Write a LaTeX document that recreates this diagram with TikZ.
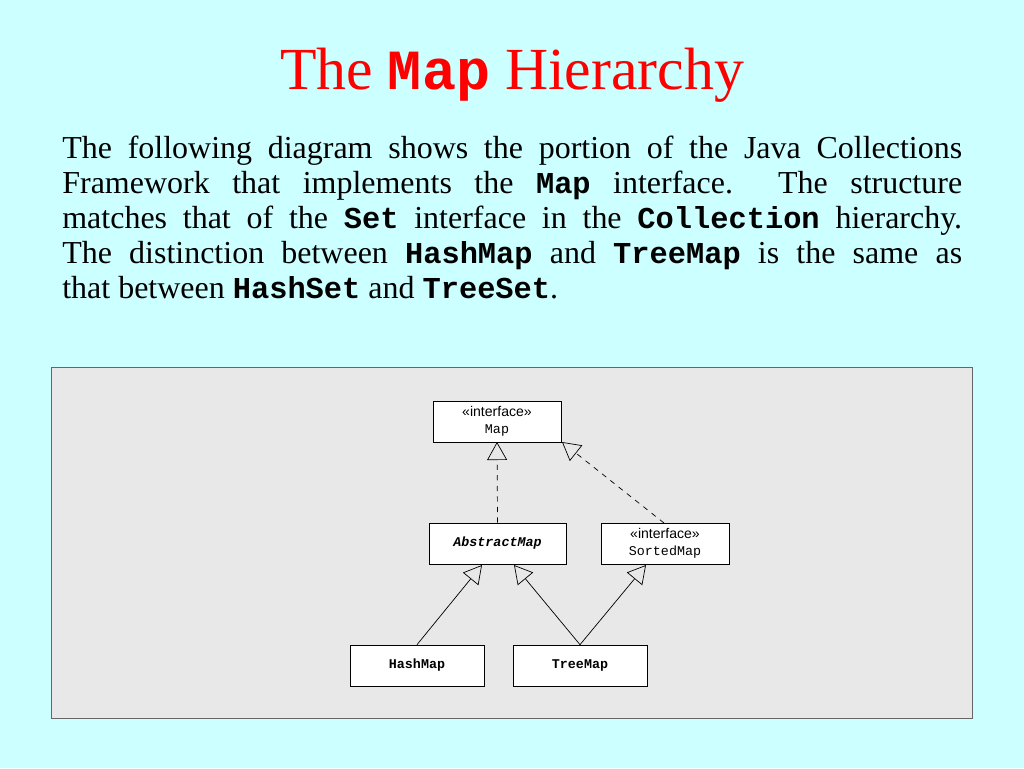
\documentclass[tikz,border=0pt]{standalone}
\usepackage{fontspec}
\setmainfont{Liberation Serif}
\setsansfont{Liberation Sans}
\setmonofont[Scale=0.95]{Liberation Mono}
\usetikzlibrary{arrows.meta}
\definecolor{slidebg}{HTML}{CCFFFF}
\definecolor{panel}{HTML}{E8E8E8}
\newcommand{\cw}[1]{\texttt{\textbf{#1}}}
\begin{document}
\begin{tikzpicture}[x=0.02cm,y=-0.02cm,
    cls/.style={draw, fill=white, minimum width=#1*0.02cm, minimum height=0.82cm, align=center, inner sep=1pt, font=\fontsize{8}{9.5}\selectfont},
    cls/.default=128,
    inh/.style={-{Triangle[open,width=0.4cm,length=0.36cm]}, thin},
    impl/.style={inh, dashed}]
  \fill[slidebg] (0,0) rectangle (1024,768);
  \useasboundingbox (0,0) rectangle (1024,768);
  % title and text
  \node[text=red, font=\fontsize{34}{40}\selectfont] (title) at (512,75) {The \cw{Map} Hierarchy};
  \node[anchor=north west, text width=18cm, align=justify, inner sep=0pt,
        font=\fontsize{18.2}{19.9}\selectfont] (para) at (62,136)
  {The following diagram shows the portion of the Java Collections\linebreak
   Framework that implements the \cw{Map} interface.\ \ The structure\linebreak
   matches that of the \cw{Set} interface in the \cw{Collection} hierarchy.\linebreak
   The distinction between \cw{HashMap} and \cw{TreeMap} is the same as\linebreak
   that between \cw{HashSet} and \cw{TreeSet}.};
  % diagram
  \draw[gray!80!black, fill=panel] (51,367) rectangle (972,718);
  \node[cls] (map) at (497,421.5) {\textsf{«interface»}\\\texttt{Map}};
  \node[cls=137] (abs) at (497.5,543.5) {\texttt{\textbf{\textit{AbstractMap}}}};
  \node[cls] (sorted) at (665,543.5) {\textsf{«interface»}\\\texttt{SortedMap}};
  \node[cls=134] (hash) at (417,665.5) {\texttt{\textbf{HashMap}}};
  \node[cls=134] (tree) at (580,665.5) {\texttt{\textbf{TreeMap}}};
  \coordinate (mapA) at (497,442);
  \coordinate (mapS) at (562,442);
  \coordinate (absH) at (482,565);
  \coordinate (absT) at (514,565);
  \coordinate (sortT) at (646,565);
  \draw[impl] (abs.north) -- (mapA);
  \draw[impl] (664,523) -- (mapS);
  \draw[inh] (hash.north) -- (absH);
  \draw[inh] (tree.north) -- (absT);
  \draw[inh] (tree.north) -- (sortT);
\end{tikzpicture}
\end{document}
